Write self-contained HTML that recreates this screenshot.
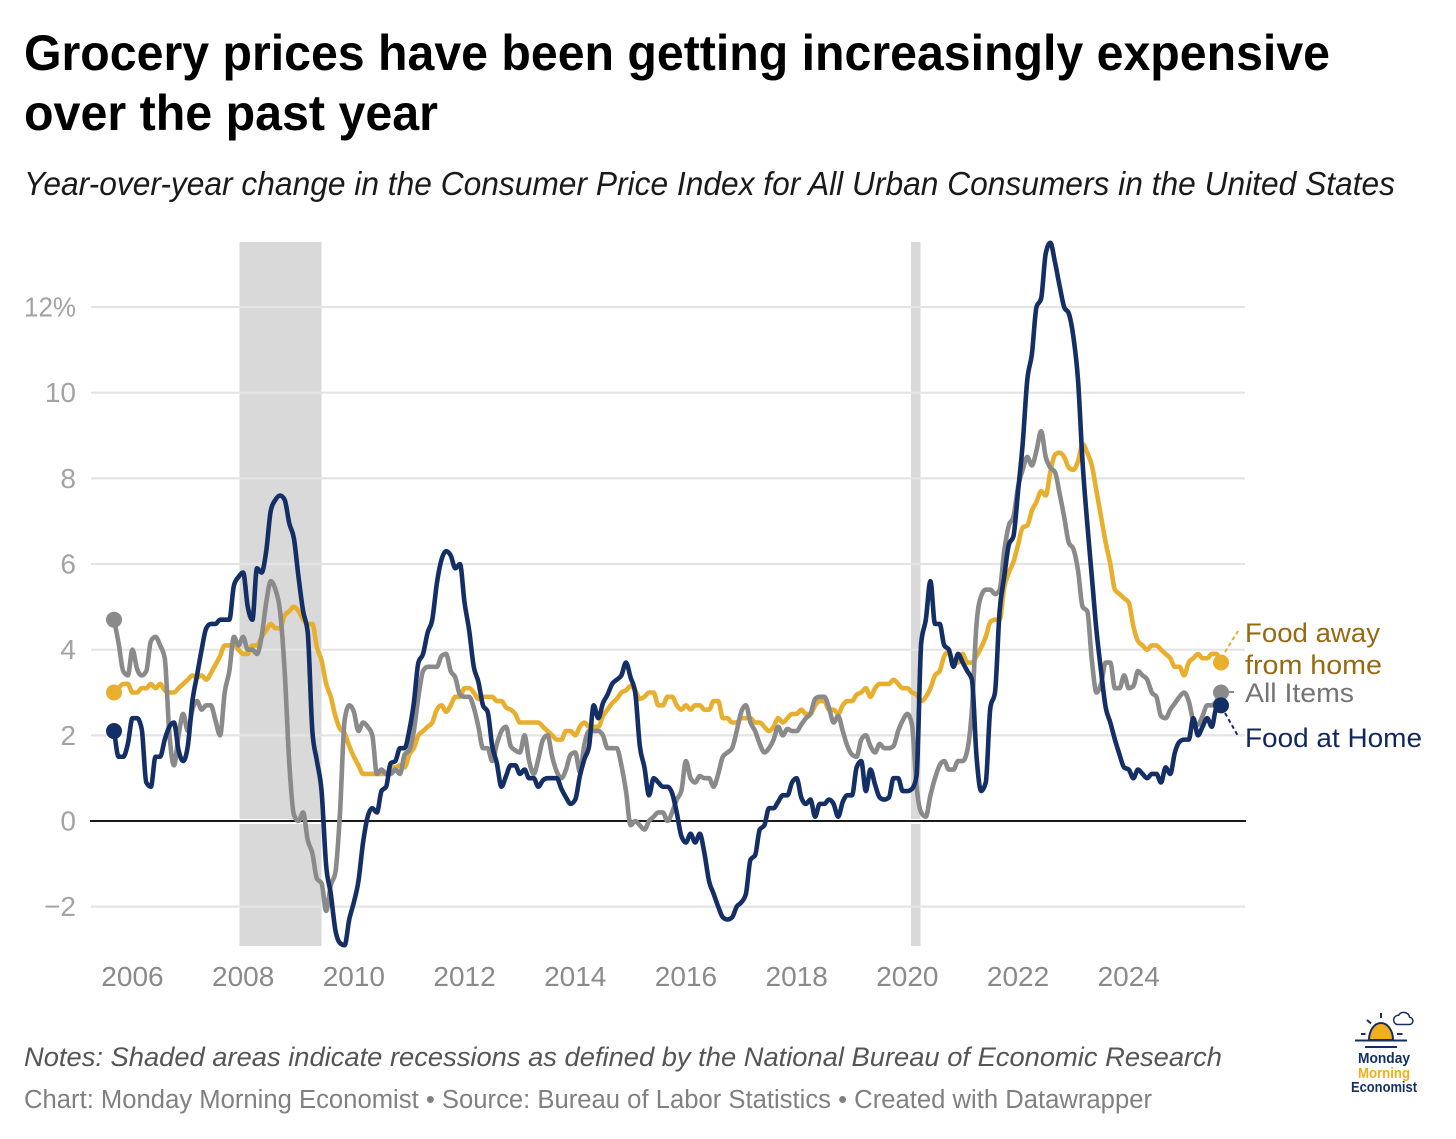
<!DOCTYPE html>
<html lang="en">
<head>
<meta charset="utf-8">
<title>Grocery prices chart</title>
<style>
html,body{margin:0;padding:0;background:#fff;}
svg{display:block;font-family:"Liberation Sans",sans-serif;}
</style>
</head>
<body>
<svg id="chart" xmlns="http://www.w3.org/2000/svg" width="1456" height="1139" viewBox="0 0 1456 1139">
  <rect x="0" y="0" width="1456" height="1139" fill="#ffffff"/>
  <text x="24" y="70" font-size="50" font-weight="700" fill="#000" textLength="1306" lengthAdjust="spacingAndGlyphs">Grocery prices have been getting increasingly expensive</text>
  <text x="24" y="130" font-size="50" font-weight="700" fill="#000" textLength="414" lengthAdjust="spacingAndGlyphs">over the past year</text>
  <text x="24" y="195" font-size="33" font-style="italic" fill="#1a1a1a" textLength="1371" lengthAdjust="spacingAndGlyphs">Year-over-year change in the Consumer Price Index for All Urban Consumers in the United States</text>

  <g id="recessions"></g>
  <g id="grid"></g>
  <g id="yticks"></g>
  <g id="xticks"></g>
  <g id="zero"></g>
  <g id="series"></g>

  <line x1="1225" y1="652" x2="1238" y2="631" stroke="#e8ae2e" stroke-width="2" stroke-dasharray="4 3"/>
  <line x1="1229" y1="692" x2="1236" y2="692" stroke="#8a8a8a" stroke-width="2" stroke-dasharray="5 3"/>
  <line x1="1225" y1="713" x2="1238" y2="736" stroke="#142e66" stroke-width="2" stroke-dasharray="4 3"/>

  <text x="1245" y="642" font-size="27" fill="#966a10" textLength="135" lengthAdjust="spacingAndGlyphs">Food away</text>
  <text x="1245" y="674" font-size="27" fill="#966a10" textLength="137" lengthAdjust="spacingAndGlyphs">from home</text>
  <text x="1245" y="702" font-size="27" fill="#747474" textLength="109" lengthAdjust="spacingAndGlyphs">All Items</text>
  <text x="1245" y="747" font-size="27" fill="#10285f" textLength="177" lengthAdjust="spacingAndGlyphs">Food at Home</text>

  <text x="24" y="1066" font-size="26.5" font-style="italic" fill="#555555" textLength="1198" lengthAdjust="spacingAndGlyphs">Notes: Shaded areas indicate recessions as defined by the National Bureau of Economic Research</text>
  <text x="24" y="1108" font-size="25.5" fill="#808080" textLength="1128" lengthAdjust="spacingAndGlyphs">Chart: Monday Morning Economist • Source: Bureau of Labor Statistics • Created with Datawrapper</text>

  <g>
    <path d="M1369 1040 A12 17 0 0 1 1393 1040 Z" fill="#f2ae1c" stroke="#142e66" stroke-width="2"/>
    <line x1="1355" y1="1040.5" x2="1407" y2="1040.5" stroke="#142e66" stroke-width="2"/>
    <line x1="1365" y1="1047" x2="1397" y2="1047" stroke="#142e66" stroke-width="2"/>
    <g stroke="#142e66" stroke-width="2">
      <line x1="1381" y1="1013" x2="1381" y2="1018"/>
      <line x1="1367" y1="1020" x2="1371" y2="1023.5"/>
      <line x1="1361" y1="1034" x2="1365.5" y2="1034"/>
      <line x1="1397" y1="1034" x2="1402.5" y2="1034"/>
    </g>
    <path d="M1397 1024.5 h12 a3.6 3.6 0 0 0 .6 -7.2 a6 6 0 0 0 -11 -2 a4.7 4.7 0 0 0 -1.6 9.2 Z" fill="#fff" stroke="#142e66" stroke-width="1.5"/>
    <text x="1384" y="1063" text-anchor="middle" font-size="14.5" font-weight="700" fill="#142e66" textLength="52" lengthAdjust="spacingAndGlyphs">Monday</text>
    <text x="1384" y="1078" text-anchor="middle" font-size="14.5" font-weight="700" fill="#f2ae1c" textLength="52" lengthAdjust="spacingAndGlyphs">Morning</text>
    <text x="1384" y="1092" text-anchor="middle" font-size="14.5" font-weight="700" fill="#142e66" textLength="66" lengthAdjust="spacingAndGlyphs">Economist</text>
  </g>
</svg>
<script>
// Data: monthly YoY % change, first value = Sep 2005
const startYear = 2005;
const startMonth = 8;
const foodAtHome = [
  2.1,1.5,1.5,1.8,
  2.4,2.4,2.15,0.9,0.8,1.5,1.5,1.9,2.2,2.3,1.65,1.4,
  1.75,2.8,3.4,4.0,4.5,4.6,4.6,4.7,4.7,4.7,5.5,5.7,
  5.8,5.0,4.7,5.9,5.8,6.3,7.25,7.5,7.6,7.5,6.95,6.6,
  5.7,4.9,4.4,2.1,1.4,0.7,-1.05,-1.7,-2.55,-2.85,-2.9,-2.3,
  -1.9,-1.4,-0.5,0.1,0.3,0.2,0.7,0.8,1.35,1.4,1.7,1.7,
  2.1,2.75,3.7,3.9,4.4,4.7,5.55,6.1,6.3,6.2,5.9,6.0,
  5.1,4.45,3.6,3.25,2.7,2.55,1.75,1.35,0.8,1.05,1.3,1.3,
  1.1,1.2,1.0,1.0,0.8,0.95,1.0,1.0,1.0,0.75,0.55,0.4,
  0.5,1.05,1.45,1.75,2.7,2.4,2.75,2.95,3.2,3.3,3.4,3.7,
  3.35,3.0,1.75,1.25,0.6,1.0,0.9,0.8,0.8,0.65,0.2,-0.35,
  -0.5,-0.3,-0.5,-0.3,-0.75,-1.4,-1.7,-2.0,-2.25,-2.3,-2.25,-2.0,
  -1.9,-1.7,-0.9,-0.8,-0.2,-0.1,0.3,0.3,0.45,0.6,0.6,0.9,
  1.0,0.55,0.4,0.5,0.1,0.4,0.4,0.5,0.4,0.1,0.45,0.6,
  0.6,1.25,1.4,0.7,1.2,0.85,0.55,0.5,0.55,1.0,1.0,0.7,
  0.7,0.75,1.05,4.15,4.7,5.6,4.6,4.6,4.1,4.0,3.6,3.9,
  3.7,3.5,3.3,1.5,0.7,0.9,2.65,3.0,4.9,5.7,6.45,6.65,
  7.7,8.8,10.3,10.9,12.0,12.2,13.25,13.5,13.05,12.5,12.0,11.85,
  11.3,10.3,8.35,6.95,5.7,4.45,3.5,2.65,2.3,1.9,1.55,1.25,
  1.2,1.0,1.2,1.1,1.0,1.1,1.1,0.9,1.25,1.1,1.6,1.85,
  1.9,1.9,2.4,2.0,2.2,2.4,2.2,2.65,2.7
];
const allItems = [
  4.7,4.15,3.5,3.4,
  4.0,3.55,3.4,3.5,4.2,4.3,4.1,3.8,2.05,1.3,2.0,2.5,
  2.1,2.6,2.8,2.6,2.7,2.7,2.35,2.0,3.0,3.5,4.3,4.1,
  4.3,4.0,4.0,3.9,4.3,5.1,5.6,5.4,4.9,3.5,1.35,0.15,
  0,0.2,-0.45,-0.75,-1.35,-1.45,-2.1,-1.5,-1.2,0.2,2.35,2.7,
  2.55,2.1,2.3,2.2,2.0,1.1,1.2,1.1,1.1,1.2,1.1,1.55,
  1.65,2.1,2.9,3.5,3.6,3.6,3.6,3.85,3.9,3.5,3.35,2.95,
  2.9,2.9,2.65,2.2,1.7,1.7,1.4,1.8,2.1,2.2,1.75,1.65,
  1.6,2.0,1.4,1.1,1.45,1.9,2.0,1.5,1.15,1.0,1.2,1.55,
  1.6,1.15,1.8,2.1,2.1,2.1,2.0,1.7,1.7,1.7,1.3,0.7,
  -0.1,0,-0.1,-0.2,0,0.1,0.2,0.2,0,0.2,0.5,0.7,
  1.4,1.0,0.9,1.05,1.0,1.0,0.8,1.1,1.5,1.6,1.7,2.1,
  2.55,2.7,2.3,2.1,1.8,1.6,1.7,1.9,2.2,2.0,2.15,2.1,
  2.1,2.25,2.4,2.5,2.85,2.9,2.9,2.65,2.3,2.45,2.1,1.75,
  1.55,1.5,1.9,2.0,1.75,1.6,1.8,1.7,1.7,1.75,2.1,2.35,
  2.5,2.25,0.8,0.2,0.1,0.6,1.0,1.3,1.4,1.2,1.2,1.4,
  1.4,1.65,2.6,4.6,5.25,5.4,5.4,5.3,5.4,6.3,6.9,7.1,
  7.8,8.2,8.5,8.3,8.65,9.1,8.5,8.25,8.15,7.65,7.1,6.5,
  6.35,5.85,5.0,4.9,3.75,3.0,3.2,3.7,3.7,3.1,3.1,3.4,
  3.1,3.15,3.5,3.4,3.3,3.0,2.9,2.45,2.4,2.6,2.75,2.9,
  3.0,2.8,2.35,2.25,2.45,2.7,2.7,2.8,3.0
];
const foodAway = [
  3.0,3.1,3.2,3.2,
  3.0,3.0,3.1,3.1,3.2,3.1,3.2,3.05,3.0,3.0,3.1,3.2,
  3.3,3.4,3.35,3.4,3.3,3.45,3.65,3.85,4.1,4.1,4.1,4.0,
  3.9,3.9,4.1,4.1,4.3,4.45,4.6,4.5,4.5,4.8,4.9,5.0,
  4.9,4.7,4.6,4.6,4.05,3.75,3.2,2.9,2.45,2.15,2.05,1.75,
  1.5,1.3,1.1,1.1,1.1,1.1,1.1,1.1,1.25,1.25,1.3,1.25,
  1.55,1.7,2.0,2.1,2.2,2.3,2.6,2.7,2.55,2.7,2.9,2.9,
  3.1,3.1,3.0,2.85,2.9,2.9,2.9,2.8,2.8,2.65,2.6,2.5,
  2.3,2.3,2.3,2.3,2.3,2.2,2.1,2.0,1.9,1.9,2.1,2.1,
  2.0,2.2,2.3,2.2,2.2,2.2,2.45,2.6,2.75,2.85,3.0,3.05,
  3.15,3.05,2.85,2.9,3.0,3.0,2.7,2.7,2.9,2.9,2.7,2.6,
  2.7,2.6,2.7,2.7,2.6,2.6,2.8,2.8,2.4,2.4,2.3,2.3,
  2.4,2.4,2.4,2.3,2.3,2.2,2.1,2.2,2.4,2.3,2.4,2.5,
  2.5,2.6,2.5,2.5,2.7,2.8,2.8,2.6,2.6,2.5,2.7,2.8,
  2.8,2.95,3.0,3.1,2.9,3.1,3.2,3.2,3.2,3.3,3.2,3.1,
  3.1,3.0,2.95,2.8,2.9,3.1,3.4,3.5,3.85,3.95,3.7,3.7,
  3.9,3.7,3.7,3.85,4.05,4.3,4.65,4.7,4.7,5.45,5.8,6.05,
  6.45,6.85,6.9,7.25,7.45,7.7,7.6,8.15,8.55,8.6,8.5,8.25,
  8.2,8.4,8.8,8.6,8.3,7.7,7.1,6.5,6.0,5.4,5.3,5.2,
  5.1,4.55,4.2,4.1,4.0,4.1,4.1,4.0,3.9,3.8,3.6,3.6,
  3.4,3.7,3.8,3.9,3.8,3.8,3.9,3.9,3.7
];
const yTickValues = [-2,0,2,4,6,8,10,12];
const yTickLabels = ["−2","0","2","4","6","8","10","12%"];
const xTickYears = [2006,2008,2010,2012,2014,2016,2018,2020,2022,2024];
const recessionStart = [2007.934,2020.066];
const recessionEnd = [2009.416,2020.238];

// Axis functions
function xFromIndex(i){ return 114 + i * 4.6125; }
function xFromYear(y){ return xFromIndex((y - startYear) * 12 - startMonth); }
function yFromValue(v){ return 821 - v * 42.83; }

const NS = 'http://www.w3.org/2000/svg';
function make(tag, parentId, attrs){
  const el = document.createElementNS(NS, tag);
  for (const k in attrs) el.setAttribute(k, attrs[k]);
  document.getElementById(parentId).appendChild(el);
  return el;
}

recessionStart.forEach(function(s, i){
  const x0 = xFromYear(s), x1 = xFromYear(recessionEnd[i]);
  const el = make('rect', 'recessions', {x:x0, y:242, width:x1-x0, height:704, fill:'#d9d9d9'});
  
  
});

yTickValues.forEach(function(v, i){
  const y = yFromValue(v);
  if (v !== 0) {
    const line = make('line', 'grid', {x1:91, x2:1245, y1:y, y2:y, stroke:'#e4e4e4', 'stroke-width':2.2});
    
    
  }
  const t = make('text', 'yticks', {x:76, y:y+9.5, 'text-anchor':'end', 'font-size':28, fill:'#a3a3a3'});
  t.textContent = yTickLabels[i];
  if (yTickLabels[i].length > 2) {
    t.setAttribute('textLength', '52');
    t.setAttribute('lengthAdjust', 'spacingAndGlyphs');
  }
  
  
});

xTickYears.forEach(function(yr){
  const t = make('text', 'xticks', {x:xFromYear(yr), y:986, 'text-anchor':'middle', 'font-size':28, fill:'#8a8a8a'});
  t.textContent = String(yr);
  
  
});

const haloLine = make('line', 'zero', {x1:91, x2:1246, y1:yFromValue(0)+0.5, y2:yFromValue(0)+0.5, stroke:'#ffffff', 'stroke-width':5});


const zeroLine = make('line', 'zero', {x1:90, x2:1246, y1:yFromValue(0), y2:yFromValue(0), stroke:'#1a1a1a', 'stroke-width':2});



// Monotone cubic path through the points
function monotonePath(vals){
  const px = vals.map(function(_, i){ return xFromIndex(i); });
  const py = vals.map(yFromValue);
  const n = vals.length, m = [];
  for (let i = 0; i < n; i++) {
    if (i === 0 || i === n - 1) { m.push((py[i === 0 ? 1 : i] - py[i === 0 ? 0 : i - 1]) / (px[1] - px[0])); continue; }
    const d0 = (py[i] - py[i-1]) / (px[i] - px[i-1]);
    const d1 = (py[i+1] - py[i]) / (px[i+1] - px[i]);
    if (d0 * d1 <= 0) m.push(0);
    else m.push(Math.sign(d0) * Math.min(2 * Math.abs(d0), 2 * Math.abs(d1), Math.abs(d0 + d1) / 2));
  }
  let d = 'M' + px[0].toFixed(2) + ' ' + py[0].toFixed(2);
  for (let i = 0; i < n - 1; i++) {
    const h = (px[i+1] - px[i]) / 3;
    d += 'C' + (px[i] + h).toFixed(2) + ' ' + (py[i] + m[i] * h).toFixed(2) + ' ' +
         (px[i+1] - h).toFixed(2) + ' ' + (py[i+1] - m[i+1] * h).toFixed(2) + ' ' +
         px[i+1].toFixed(2) + ' ' + py[i+1].toFixed(2);
  }
  return d;
}

const yellow = '#e8ae2e', gray = '#8a8a8a', navy = '#142e66';

const pathAway = make('path', 'series', {d:monotonePath(foodAway), fill:'none', stroke:yellow, 'stroke-width':4.6, 'stroke-linejoin':'round', 'stroke-linecap':'round'});


const pathAll = make('path', 'series', {d:monotonePath(allItems), fill:'none', stroke:gray, 'stroke-width':4.6, 'stroke-linejoin':'round', 'stroke-linecap':'round'});


const pathHome = make('path', 'series', {d:monotonePath(foodAtHome), fill:'none', stroke:navy, 'stroke-width':4.6, 'stroke-linejoin':'round', 'stroke-linecap':'round'});



const awayStart = make('circle', 'series', {cx:xFromIndex(0), cy:yFromValue(foodAway[0]), r:8, fill:yellow});


const awayEnd = make('circle', 'series', {cx:xFromIndex(foodAway.length-1), cy:yFromValue(foodAway[foodAway.length-1]), r:8, fill:yellow});


const allStart = make('circle', 'series', {cx:xFromIndex(0), cy:yFromValue(allItems[0]), r:8, fill:gray});


const allEnd = make('circle', 'series', {cx:xFromIndex(allItems.length-1), cy:yFromValue(allItems[allItems.length-1]), r:8, fill:gray});


const homeStart = make('circle', 'series', {cx:xFromIndex(0), cy:yFromValue(foodAtHome[0]), r:8, fill:navy});


const homeEnd = make('circle', 'series', {cx:xFromIndex(foodAtHome.length-1), cy:yFromValue(foodAtHome[foodAtHome.length-1]), r:8, fill:navy});


</script>
</body>
</html>
